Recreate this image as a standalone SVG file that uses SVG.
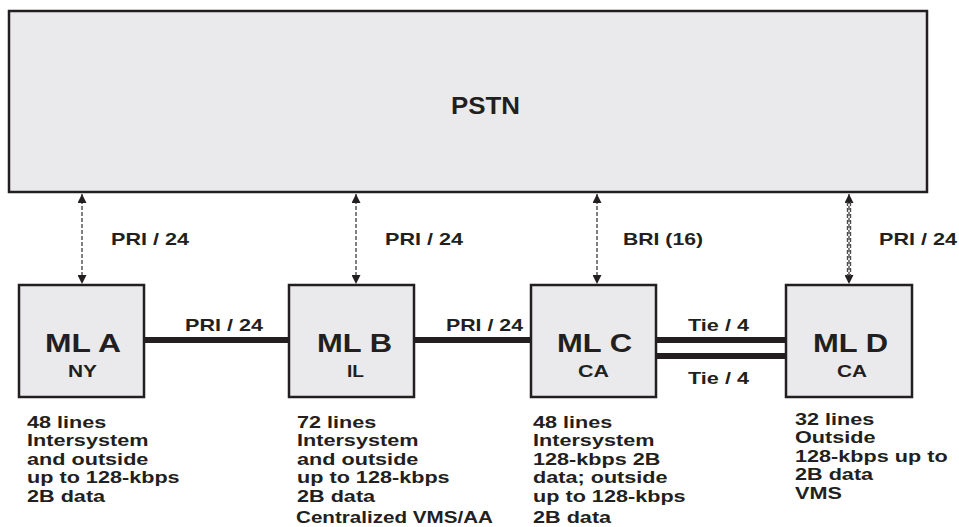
<svg xmlns="http://www.w3.org/2000/svg" width="959" height="527" viewBox="0 0 959 527">
<defs>
<style>
.box{fill:#eaeaec;stroke:#231f20;stroke-width:2.5}
.t{font-family:"Liberation Sans",Arial,sans-serif;font-weight:bold;fill:#231f20}
.big{font-size:26px}
.loc{font-size:17px}
.lbl{font-size:17px}
.body{font-size:16.4px}
.thick{stroke:#231f20;stroke-width:6;fill:none}
.dash{stroke:#4a4a4a;stroke-width:1.4;stroke-dasharray:4 2;fill:none}
</style>
<marker id="ah" viewBox="0 0 10 10" refX="10" refY="5" markerWidth="9" markerHeight="9" markerUnits="userSpaceOnUse" orient="auto-start-reverse">
<path d="M0,0 L10,5 L0,10 z" fill="#231f20"/>
</marker>
</defs>
<g id="pstn">
<rect class="box" x="9" y="11" width="918" height="181"/>
<text class="t" x="451" y="114" font-size="24" textLength="69" lengthAdjust="spacingAndGlyphs">PSTN</text>
</g>
<g id="connectors">
<line class="dash" x1="82" y1="194" x2="82" y2="284" marker-start="url(#ah)" marker-end="url(#ah)"/>
<line class="dash" x1="356" y1="194" x2="356" y2="284" marker-start="url(#ah)" marker-end="url(#ah)"/>
<line class="dash" x1="597" y1="194" x2="597" y2="284" marker-start="url(#ah)" marker-end="url(#ah)"/>
<line class="dash" x1="849" y1="194" x2="849" y2="284" marker-start="url(#ah)" marker-end="url(#ah)"/>
<line class="dash" x1="847.5" y1="202" x2="847.5" y2="276"/>
<line class="dash" x1="850.5" y1="202" x2="850.5" y2="276"/>
<line class="thick" x1="144" y1="340" x2="289" y2="340"/>
<line class="thick" x1="414" y1="340" x2="531" y2="340"/>
<line class="thick" x1="656" y1="340" x2="786" y2="340"/>
<line class="thick" x1="656" y1="356" x2="786" y2="356"/>
<text class="t lbl" x="111" y="245" textLength="78" lengthAdjust="spacingAndGlyphs">PRI / 24</text>
<text class="t lbl" x="385" y="245" textLength="78" lengthAdjust="spacingAndGlyphs">PRI / 24</text>
<text class="t lbl" x="623" y="245" textLength="80" lengthAdjust="spacingAndGlyphs">BRI (16)</text>
<text class="t lbl" x="879" y="245" textLength="78" lengthAdjust="spacingAndGlyphs">PRI / 24</text>
<text class="t lbl" x="185" y="331" textLength="78" lengthAdjust="spacingAndGlyphs">PRI / 24</text>
<text class="t lbl" x="446" y="331" textLength="77" lengthAdjust="spacingAndGlyphs">PRI / 24</text>
<text class="t lbl" x="688" y="331" textLength="61" lengthAdjust="spacingAndGlyphs">Tie / 4</text>
<text class="t lbl" x="688" y="384" textLength="61" lengthAdjust="spacingAndGlyphs">Tie / 4</text>
</g>
<g id="mla">
<rect class="box" x="19" y="285" width="125" height="112"/>
<text class="t big" x="45" y="352" textLength="76" lengthAdjust="spacingAndGlyphs">ML A</text>
<text class="t loc" x="68" y="377" textLength="29" lengthAdjust="spacingAndGlyphs">NY</text>
<g transform="translate(27,0) scale(1.32,1)">
<text class="t body" x="0" y="428">48 lines</text>
<text class="t body" x="0" y="446.4">Intersystem</text>
<text class="t body" x="0" y="464.8">and outside</text>
<text class="t body" x="0" y="483.2">up to 128-kbps</text>
<text class="t body" x="0" y="501.6">2B data</text>
</g>
</g>
<g id="mlb">
<rect class="box" x="289" y="285" width="125" height="112"/>
<text class="t big" x="317" y="352" textLength="75" lengthAdjust="spacingAndGlyphs">ML B</text>
<text class="t loc" x="347" y="377" textLength="17" lengthAdjust="spacingAndGlyphs">IL</text>
<g transform="translate(297,0) scale(1.32,1)">
<text class="t body" x="0" y="428">72 lines</text>
<text class="t body" x="0" y="446.4">Intersystem</text>
<text class="t body" x="0" y="464.8">and outside</text>
<text class="t body" x="0" y="483.2">up to 128-kbps</text>
<text class="t body" x="0" y="501.6">2B data</text>
</g>
<text class="t body" x="296" y="522.5" textLength="197" lengthAdjust="spacingAndGlyphs">Centralized VMS/AA</text>
</g>
<g id="mlc">
<rect class="box" x="531" y="285" width="125" height="112"/>
<text class="t big" x="557" y="352" textLength="75" lengthAdjust="spacingAndGlyphs">ML C</text>
<text class="t loc" x="578" y="377" textLength="31" lengthAdjust="spacingAndGlyphs">CA</text>
<g transform="translate(533,0) scale(1.32,1)">
<text class="t body" x="0" y="428">48 lines</text>
<text class="t body" x="0" y="446.4">Intersystem</text>
<text class="t body" x="0" y="464.8">128-kbps 2B</text>
<text class="t body" x="0" y="483.2">data; outside</text>
<text class="t body" x="0" y="501.6">up to 128-kbps</text>
<text class="t body" x="0" y="523">2B data</text>
</g>
</g>
<g id="mld">
<rect class="box" x="786" y="285" width="126" height="112"/>
<text class="t big" x="813" y="352" textLength="75" lengthAdjust="spacingAndGlyphs">ML D</text>
<text class="t loc" x="837" y="377" textLength="30" lengthAdjust="spacingAndGlyphs">CA</text>
<g transform="translate(795,0) scale(1.32,1)">
<text class="t body" x="0" y="425">32 lines</text>
<text class="t body" x="0" y="443.4">Outside</text>
<text class="t body" x="0" y="461.8">128-kbps up to</text>
<text class="t body" x="0" y="480.2">2B data</text>
<text class="t body" x="0" y="498.6">VMS</text>
</g>
</g>
</svg>
